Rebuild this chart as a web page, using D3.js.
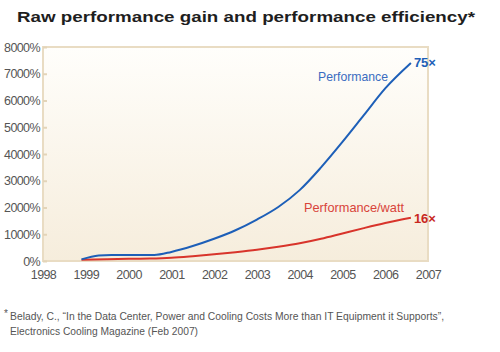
<!DOCTYPE html>
<html>
<head>
<meta charset="utf-8">
<script src="https://cdn.jsdelivr.net/npm/d3@7"></script>
<style>
  body { margin: 0; background: #fff; }
  svg { display: block; font-family: "Liberation Sans", Arial, sans-serif; }
</style>
</head>
<body>
<div id="chart"></div>
<script>
(function() {
    const width = 500, height = 352;

    // data (percent gain)
    const perfYears  = [1998.9, 1999.3, 1999.6, 2000.6, 2001, 2001.5, 2002, 2002.5, 2003, 2003.5, 2004, 2004.5, 2005, 2005.5, 2006, 2006.6];
    const perfValues = [60, 210, 225, 225, 340, 560, 830, 1150, 1550, 2020, 2650, 3500, 4450, 5450, 6450, 7400];
    const wattYears  = [1998.9, 1999.5, 2000, 2000.5, 2001, 2001.5, 2002, 2002.5, 2003, 2003.5, 2004, 2004.5, 2005, 2005.5, 2006, 2006.6];
    const wattValues = [50, 70, 80, 90, 120, 180, 250, 330, 420, 530, 660, 830, 1030, 1230, 1420, 1620];
    const xTicks = [1998, 1999, 2000, 2001, 2002, 2003, 2004, 2005, 2006, 2007];
    const yTicks = [0, 1000, 2000, 3000, 4000, 5000, 6000, 7000, 8000];

    const svg = d3.select("#chart").append("svg")
        .attr("width", width)
        .attr("height", height);

    const x = d3.scaleLinear().domain([1998, 2007]).range([43, 428]);
    const y = d3.scaleLinear().domain([0, 8000]).range([261, 47]);

    // background gradient of the plot area
    const grad = svg.append("defs").append("linearGradient")
        .attr("id", "bg").attr("x1", 0).attr("y1", 0).attr("x2", 0).attr("y2", 1);
    grad.append("stop").attr("offset", "0%").attr("stop-color", "#fffefb");
    grad.append("stop").attr("offset", "100%").attr("stop-color", "#f6eddc");

    svg.append("text")
        .attr("x", 17).attr("y", 22)
        .attr("font-size", 15.5).attr("font-weight", "bold")
        .attr("fill", "#1e1e1e")
        .attr("textLength", 458).attr("lengthAdjust", "spacingAndGlyphs")
        .text("Raw performance gain and performance efficiency*");

    svg.append("rect")
        .attr("x", x(1998)).attr("y", y(8000))
        .attr("width", x(2007) - x(1998)).attr("height", y(0) - y(8000))
        .attr("fill", "url(#bg)")
        .attr("stroke", "#e9dcc3").attr("stroke-width", 2);

    // y axis
    const yAxis = svg.append("g")
        .attr("transform", `translate(${x(1998)},0)`)
        .call(d3.axisRight(y).tickValues(yTicks).tickSize(4).tickFormat(""));
    yAxis.select(".domain").remove();
    yAxis.selectAll("line").attr("stroke", "#e3d4b8").attr("stroke-width", 2);

    svg.selectAll(".ylab").data(yTicks).enter().append("text")
        .attr("class", "ylab")
        .attr("x", 40).attr("y", d => y(d) + 4.5)
        .attr("text-anchor", "end")
        .attr("font-size", 12.5).attr("fill", "#555")
        .attr("letter-spacing", -0.6)
        .text(d => d + "%");

    // x axis labels
    const xAxis = svg.append("g")
        .attr("transform", `translate(0,${y(0) + 2})`)
        .call(d3.axisBottom(x).tickValues(xTicks).tickSize(0).tickFormat(d3.format("d")));
    xAxis.select(".domain").remove();
    xAxis.selectAll("text")
        .attr("dy", 13)
        .attr("font-size", 12.5).attr("fill", "#555")
        .attr("letter-spacing", -0.6)
        .attr("font-family", "\"Liberation Sans\", Arial, sans-serif");

    const line = d3.line()
        .x(d => x(d[0])).y(d => y(d[1]))
        .curve(d3.curveMonotoneX);

    svg.append("path")
        .datum(d3.zip(wattYears, wattValues))
        .attr("d", line)
        .attr("fill", "none").attr("stroke", "#d8342b").attr("stroke-width", 2);

    svg.append("path")
        .datum(d3.zip(perfYears, perfValues))
        .attr("d", line)
        .attr("fill", "none").attr("stroke", "#1d5fb8").attr("stroke-width", 2);

    // labels
    const lastP = perfYears.length - 1, lastW = wattYears.length - 1;
    svg.append("text")
        .attr("x", 318).attr("y", 81)
        .attr("font-size", 13).attr("fill", "#3a6cc0")
        .attr("textLength", 70).attr("lengthAdjust", "spacingAndGlyphs")
        .text("Performance");
    svg.append("text")
        .attr("x", x(perfYears[lastP]) + 3).attr("y", y(perfValues[lastP]) + 4)
        .attr("font-size", 13).attr("font-weight", "bold").attr("fill", "#1d5fb8")
        .text("75×");
    svg.append("text")
        .attr("x", 304).attr("y", 212)
        .attr("font-size", 13).attr("fill", "#d8443a")
        .attr("textLength", 100).attr("lengthAdjust", "spacingAndGlyphs")
        .text("Performance/watt");
    svg.append("text")
        .attr("x", x(wattYears[lastW]) + 3).attr("y", y(wattValues[lastW]) + 5)
        .attr("font-size", 13).attr("font-weight", "bold").attr("fill", "#c8281f")
        .text("16×");

    // footnote
    svg.append("text")
        .attr("x", 4).attr("y", 317)
        .attr("font-size", 10).attr("fill", "#555")
        .text("*");
    svg.append("text")
        .attr("x", 10).attr("y", 320)
        .attr("font-size", 11).attr("fill", "#555")
        .attr("textLength", 434).attr("lengthAdjust", "spacingAndGlyphs")
        .text("Belady, C., “In the Data Center, Power and Cooling Costs More than IT Equipment it Supports”,");
    svg.append("text")
        .attr("x", 10).attr("y", 335)
        .attr("font-size", 11).attr("fill", "#555")
        .attr("textLength", 188).attr("lengthAdjust", "spacingAndGlyphs")
        .text("Electronics Cooling Magazine (Feb 2007)");
})();
</script>
</body>
</html>
